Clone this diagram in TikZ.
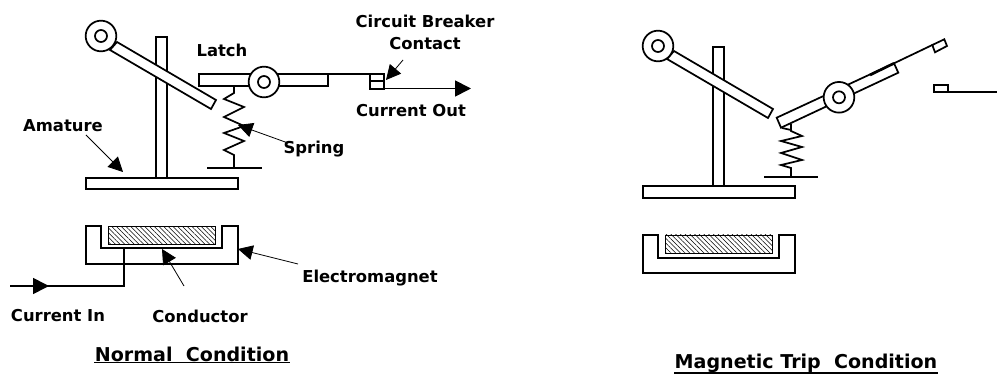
\documentclass[tikz,border=0pt]{standalone}
\usepackage{fontspec}
\setmainfont{DejaVu Sans}
\usetikzlibrary{arrows.meta,patterns.meta}

\begin{document}
\begin{tikzpicture}[
    x=0.75pt, y=-0.75pt,
    part/.style={draw, line width=1.3pt, fill=white, line join=miter},
    wire/.style={draw, line width=1.3pt},
    leader/.style={draw, line width=0.6pt, -{Triangle[length=11pt, width=11pt]}},
    flow/.style={draw, line width=1.3pt, -{Triangle[length=12pt, width=12pt]}},
    hatch/.style={draw, line width=0.5pt, pattern={Lines[angle=-45, distance=2.5pt, line width=0.4pt]}},
    pivot/.style={draw, circle, line width=1.3pt, fill=white, minimum size=23pt, inner sep=0pt},
    hub/.style={draw, circle, line width=1.3pt, fill=white, minimum size=9pt, inner sep=0pt},
    label/.style={font=\fontsize{12.3}{16.5}\selectfont\bfseries, inner sep=0pt, align=center},
    heading/.style={font=\fontsize{14.3}{16}\selectfont\bfseries, inner sep=0.3pt}
]
\useasboundingbox (0,0) rectangle (997,374);

% Normal condition
\draw[part] (156,37) rectangle (167,189);
\draw[part] (86,178) rectangle (238,189);
\draw[part] (117,42) -- (216,100) -- (211,109) -- (110,50) -- cycle;
\node[pivot] (pivotA) at (101,36) {};
\node[hub] (hubA) at (pivotA) {};

\draw[part] (199,74) rectangle (328,86);
\draw[line width=2pt] (302,74) -- (328,74);
\node[pivot] (latchA) at (264,82) {};
\node[hub] (latchhubA) at (latchA) {};
\draw[wire] (234,86) -- (234,93) -- (224,99) -- (244,107) -- (224,117) -- (244,126)
    -- (224,133) -- (244,141) -- (224,150) -- (234,155) -- (234,168);
\draw[wire] (207,168) -- (262,168);

\draw[wire] (328,74) -- (370,74);
\draw[part] (370,74) rectangle (384,81);
\draw[part] (370,81) rectangle (384,89);
\coordinate (outA) at (384,88.5);
\coordinate (outtip) at (471,88.5);
\draw[flow] (outA) -- (outtip);

\draw[part] (86,226) -- (101,226) -- (101,248) -- (222,248) -- (222,226) -- (238,226) -- (238,264) -- (86,264) -- cycle;
\draw[hatch] (108,226.5) rectangle (215,244);

\coordinate (instart) at (10,286);
\coordinate (inmid) at (49,286);
\coordinate (inend) at (124,249);
\draw[wire] (instart) -- (124,286) -- (inend);
\draw[flow] (instart) -- (inmid);

% Beschriftung
\node[label] (latchlabel) at (222,50) {Latch};
\node[label] (breaker) at (425,32) {Circuit Breaker\\Contact};
\node[label] (currentout) at (411,111) {Current Out};
\node[label] (spring) at (314,149) {Spring};
\node[label] (amature) at (63,126) {Amature};
\node[label] (electromagnet) at (370,278) {Electromagnet};
\node[label] (currentin) at (58,316) {Current In};
\node[label] (conductor) at (200,316) {Conductor};
\node[heading] (normal) at (192,354) {Normal\ \ Condition};
\draw[line width=0.8pt] (normal.south west) -- (normal.south east);

\coordinate (amaturefoot) at (86,135);
\coordinate (amaturetip) at (123,172);
\coordinate (springfoot) at (288,143);
\coordinate (springtip) at (238,125);
\coordinate (breakerfoot) at (403,60);
\coordinate (breakertip) at (386,80);
\coordinate (magnetfoot) at (298,264);
\coordinate (magnettip) at (238,249);
\coordinate (conductorfoot) at (184,286);
\coordinate (conductortip) at (162,249);
\draw[leader] (amaturefoot) -- (amaturetip);
\draw[leader] (springfoot) -- (springtip);
\draw[leader] (breakerfoot) -- (breakertip);
\draw[leader] (magnetfoot) -- (magnettip);
\draw[leader] (conductorfoot) -- (conductortip);

% Magnetic trip condition
\draw[part] (713,47) rectangle (724,198);
\draw[part] (643,186) rectangle (795,198);
\draw[part] (674,51) -- (773,109) -- (768,118) -- (667,59) -- cycle;
\node[pivot] (pivotB) at (658,46) {};
\node[hub] (hubB) at (pivotB) {};

\draw[wire] (791,177) -- (791,168) -- (781,165) -- (802,160) -- (781,153) -- (802,147)
    -- (781,141) -- (802,136) -- (791,131) -- (791,124);
\draw[wire] (764,177) -- (818,177);
\draw[wire] (782,128) -- (791,130);
\draw[part] (776.7,117.7) -- (781,127.7) -- (898.3,72.7) -- (894,63.3) -- cycle;
\draw[line width=2pt] (870,75) -- (894,63.3);
\node[pivot] (latchB) at (839,97.3) {};
\node[hub] (latchhubB) at (latchB) {};

\draw[wire] (894,63.3) -- (932.3,45);
\draw[part] (932.3,45) -- (944.3,39.3) -- (947,46) -- (935,52.3) -- cycle;
\draw[part] (934,85) rectangle (948,92);
\draw[wire] (948,92) -- (997,92);

\draw[part] (643,235) -- (658,235) -- (658,258) -- (779,258) -- (779,235) -- (795,235) -- (795,273) -- (643,273) -- cycle;
\draw[hatch] (665,235) rectangle (772,253);

\node[heading] (trip) at (806,363) {Magnetic Trip\ \ Condition};
\draw[line width=0.8pt] (trip.south west) -- (trip.south east);

\end{tikzpicture}
\end{document}
